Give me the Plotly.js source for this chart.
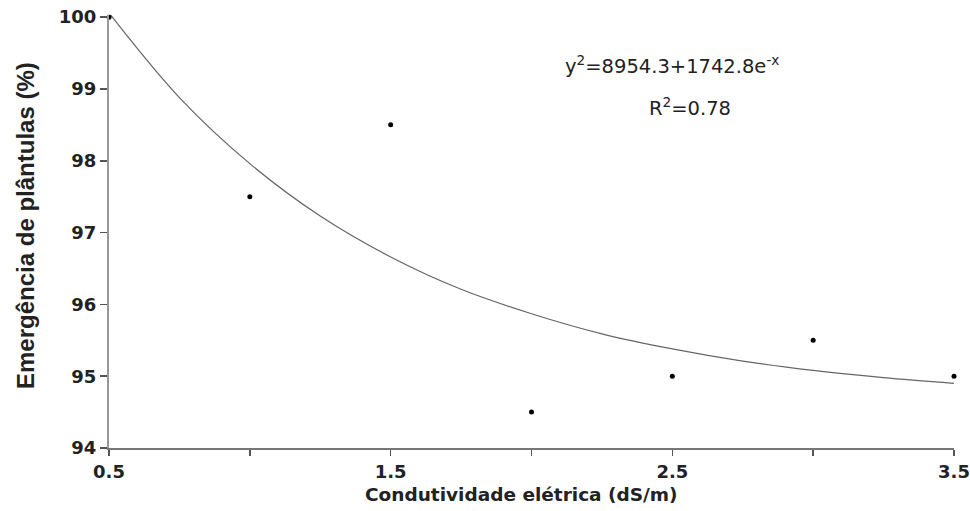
<!DOCTYPE html>
<html>
<head>
<meta charset="utf-8">
<script src="https://cdn.plot.ly/plotly-3.0.1.min.js"></script>
<style>html,body{margin:0;padding:0;background:#fff;}#chart{width:970px;height:511px;}</style>
</head>
<body>
<div id="chart"></div>
<script>
// Observed points
const conductivity = [0.5, 1.0, 1.5, 2.0, 2.5, 3.0, 3.5];
const emergence = [100.0, 97.5, 98.5, 94.5, 95.0, 95.5, 95.0];

// Fitted curve
const curveX = [0.5, 0.75, 1.0, 1.25, 1.5, 1.75, 2.0, 2.25, 2.5, 2.75, 3.0, 3.25, 3.5];
const curveY = [100.06, 98.88, 97.96, 97.23, 96.66, 96.21, 95.87, 95.59, 95.38, 95.21, 95.08, 94.98, 94.90];

// Axis ticks
const xTickVals = [0.5, 1.0, 1.5, 2.0, 2.5, 3.0, 3.5];
const xTickText = ['0.5', '', '1.5', '', '2.5', '', '3.5'];
const yTickVals = [94, 95, 96, 97, 98, 99, 100];
const yTickText = ['94', '95', '96', '97', '98', '99', '100'];

const xTitle = 'Condutividade elétrica (dS/m)';
const yTitle = 'Emergência de plântulas (%)';
const equationText = 'y<sup>2</sup>=8954.3+1742.8e<sup>-x</sup>';
const r2Text = 'R<sup>2</sup>=0.78';

const wideFont = 'DejaVu Sans, Verdana, sans-serif';
const narrowFont = 'Liberation Sans, Arial, sans-serif';

const traces = [
  {
    x: curveX, y: curveY, type: 'scatter', mode: 'lines',
    line: {color: '#666', width: 1.2, shape: 'spline'},
    hoverinfo: 'skip', cliponaxis: false
  },
  {
    x: conductivity, y: emergence, type: 'scatter', mode: 'markers',
    marker: {color: '#000', size: 5},
    cliponaxis: false
  }
];

const L = 109, R = 16, T = 15, B = 63;
const plotW = 970 - L - R, plotH = 511 - T - B;
const px = v => (v - L) / plotW;
const py = v => 1 - (v - T) / plotH;

const ann = (text, x, y, font, extra) => Object.assign({
  text: text, x: px(x), y: py(y), xref: 'paper', yref: 'paper', showarrow: false,
  xanchor: 'center', yanchor: 'middle', font: font
}, extra || {});

const layout = {
  width: 970, height: 511,
  margin: {l: L, r: R, t: T, b: B},
  paper_bgcolor: '#fff', plot_bgcolor: '#fff',
  showlegend: false,
  font: {family: wideFont, color: '#222'},
  xaxis: {
    range: [0.5, 3.5],
    tickvals: xTickVals, ticktext: xTickText,
    ticks: 'outside', ticklen: 6, tickwidth: 1.5, tickcolor: '#555',
    showline: true, linecolor: '#777', linewidth: 2,
    showgrid: false, zeroline: false,
    tickfont: {family: wideFont, size: 18, color: '#222', weight: 'bold'}
  },
  yaxis: {
    range: [94, 100.03],
    tickvals: yTickVals, ticktext: yTickText,
    ticks: 'outside', ticklen: 7, tickwidth: 1.5, tickcolor: '#555',
    showline: true, linecolor: '#999', linewidth: 2,
    showgrid: false, zeroline: false,
    tickfont: {family: wideFont, size: 18, color: '#222', weight: 'bold'}
  },
  annotations: [
    ann('<b>' + xTitle + '</b>', 521, 495, {family: wideFont, size: 18.5, color: '#222'}),
    ann('<b>' + yTitle + '</b>', 25, 226, {family: narrowFont, size: 24, color: '#222'}, {textangle: -90}),
    ann(equationText, 672, 65, {family: wideFont, size: 19.5, color: '#222'}),
    ann(r2Text, 690, 107, {family: wideFont, size: 19.5, color: '#222'})
  ]
};

Plotly.newPlot('chart', traces, layout, {displayModeBar: false, staticPlot: true});
</script>
</body>
</html>
